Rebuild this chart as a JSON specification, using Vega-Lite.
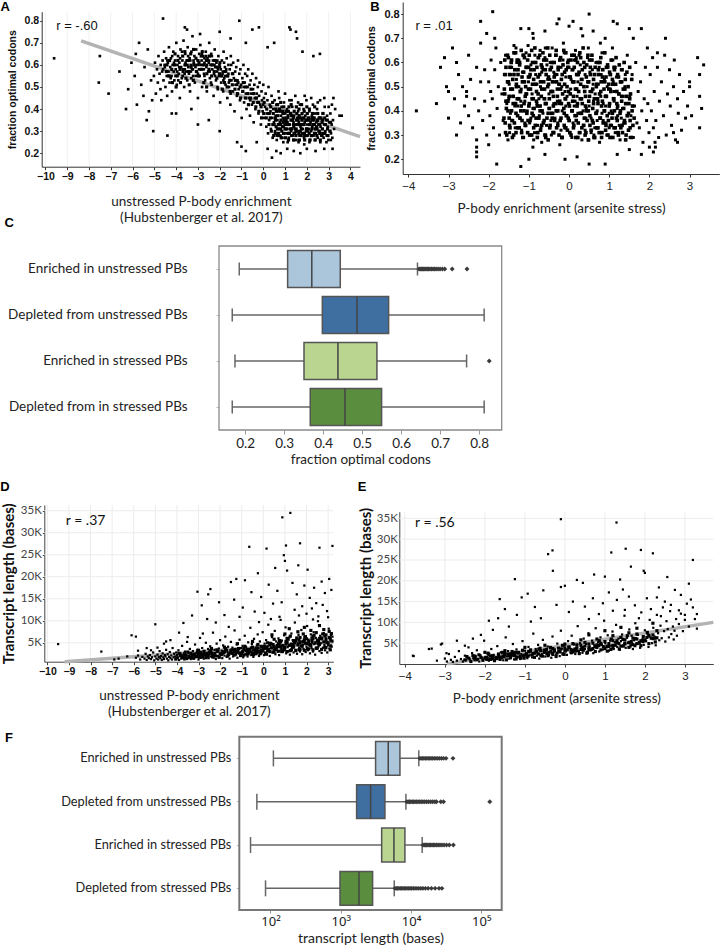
{
"$schema":"https://vega.github.io/schema/vega-lite/v6.json",
"width":720,"height":947,"padding":0,"autosize":{"type":"none"},"background":"white",
"config":{"view":{"stroke":null},"axis":{"grid":false,"labelFlush":false,"labelOverlap":false}},
"datasets":{
"cbox":[
{"group":"Enriched in unstressed PBs","lower":0.185,"q1":0.309,"median":0.371,"q3":0.444,"upper":0.642},
{"group":"Depleted from  unstressed PBs","lower":0.167,"q1":0.398,"median":0.487,"q3":0.568,"upper":0.813},
{"group":"Enriched in stressed PBs","lower":0.174,"q1":0.351,"median":0.438,"q3":0.538,"upper":0.768},
{"group":"Depleted from in stressed PBs","lower":0.167,"q1":0.367,"median":0.456,"q3":0.55,"upper":0.813}],
"cout":[
{"group":"Enriched in unstressed PBs","value":0.646},{"group":"Enriched in unstressed PBs","value":0.649},{"group":"Enriched in unstressed PBs","value":0.652},{"group":"Enriched in unstressed PBs","value":0.655},{"group":"Enriched in unstressed PBs","value":0.658},{"group":"Enriched in unstressed PBs","value":0.661},{"group":"Enriched in unstressed PBs","value":0.664},{"group":"Enriched in unstressed PBs","value":0.667},{"group":"Enriched in unstressed PBs","value":0.67},{"group":"Enriched in unstressed PBs","value":0.674},{"group":"Enriched in unstressed PBs","value":0.678},{"group":"Enriched in unstressed PBs","value":0.682},{"group":"Enriched in unstressed PBs","value":0.686},{"group":"Enriched in unstressed PBs","value":0.69},{"group":"Enriched in unstressed PBs","value":0.695},{"group":"Enriched in unstressed PBs","value":0.7},{"group":"Enriched in unstressed PBs","value":0.706},{"group":"Enriched in unstressed PBs","value":0.712},{"group":"Enriched in unstressed PBs","value":0.731},{"group":"Enriched in unstressed PBs","value":0.769},
{"group":"Enriched in stressed PBs","value":0.826}],
"fbox":[
{"group":"Enriched in unstressed PBs","lower":110,"q1":3130,"median":4740,"q3":6950,"upper":12900},
{"group":"Depleted from  unstressed PBs","lower":64,"q1":1680,"median":2660,"q3":4250,"upper":8450},
{"group":"Enriched in stressed PBs","lower":52,"q1":3820,"median":5710,"q3":8180,"upper":14400},
{"group":"Depleted from stressed PBs","lower":85,"q1":975,"median":1815,"q3":2840,"upper":5770}],
"fout":[
{"group":"Enriched in unstressed PBs","value":13300},{"group":"Enriched in unstressed PBs","value":13900},{"group":"Enriched in unstressed PBs","value":14500},{"group":"Enriched in unstressed PBs","value":15200},{"group":"Enriched in unstressed PBs","value":15900},{"group":"Enriched in unstressed PBs","value":16700},{"group":"Enriched in unstressed PBs","value":17500},{"group":"Enriched in unstressed PBs","value":18400},{"group":"Enriched in unstressed PBs","value":19300},{"group":"Enriched in unstressed PBs","value":20300},{"group":"Enriched in unstressed PBs","value":21400},{"group":"Enriched in unstressed PBs","value":22600},{"group":"Enriched in unstressed PBs","value":24000},{"group":"Enriched in unstressed PBs","value":25500},{"group":"Enriched in unstressed PBs","value":27200},{"group":"Enriched in unstressed PBs","value":29000},{"group":"Enriched in unstressed PBs","value":31500},{"group":"Enriched in unstressed PBs","value":39500},
{"group":"Depleted from  unstressed PBs","value":8700},{"group":"Depleted from  unstressed PBs","value":9100},{"group":"Depleted from  unstressed PBs","value":9500},{"group":"Depleted from  unstressed PBs","value":9900},{"group":"Depleted from  unstressed PBs","value":10400},{"group":"Depleted from  unstressed PBs","value":10900},{"group":"Depleted from  unstressed PBs","value":11400},{"group":"Depleted from  unstressed PBs","value":12000},{"group":"Depleted from  unstressed PBs","value":12600},{"group":"Depleted from  unstressed PBs","value":13300},{"group":"Depleted from  unstressed PBs","value":14000},{"group":"Depleted from  unstressed PBs","value":14800},{"group":"Depleted from  unstressed PBs","value":15700},{"group":"Depleted from  unstressed PBs","value":16700},{"group":"Depleted from  unstressed PBs","value":17800},{"group":"Depleted from  unstressed PBs","value":19000},{"group":"Depleted from  unstressed PBs","value":20300},{"group":"Depleted from  unstressed PBs","value":21800},{"group":"Depleted from  unstressed PBs","value":23000},{"group":"Depleted from  unstressed PBs","value":26500},{"group":"Depleted from  unstressed PBs","value":29000},{"group":"Depleted from  unstressed PBs","value":132000},
{"group":"Enriched in stressed PBs","value":14800},{"group":"Enriched in stressed PBs","value":15400},{"group":"Enriched in stressed PBs","value":16000},{"group":"Enriched in stressed PBs","value":16700},{"group":"Enriched in stressed PBs","value":17400},{"group":"Enriched in stressed PBs","value":18200},{"group":"Enriched in stressed PBs","value":19000},{"group":"Enriched in stressed PBs","value":19900},{"group":"Enriched in stressed PBs","value":20800},{"group":"Enriched in stressed PBs","value":21800},{"group":"Enriched in stressed PBs","value":23000},{"group":"Enriched in stressed PBs","value":24300},{"group":"Enriched in stressed PBs","value":25800},{"group":"Enriched in stressed PBs","value":27500},{"group":"Enriched in stressed PBs","value":29500},{"group":"Enriched in stressed PBs","value":32000},{"group":"Enriched in stressed PBs","value":35000},{"group":"Enriched in stressed PBs","value":40000},
{"group":"Depleted from stressed PBs","value":5900},{"group":"Depleted from stressed PBs","value":6150},{"group":"Depleted from stressed PBs","value":6400},{"group":"Depleted from stressed PBs","value":6700},{"group":"Depleted from stressed PBs","value":7000},{"group":"Depleted from stressed PBs","value":7300},{"group":"Depleted from stressed PBs","value":7650},{"group":"Depleted from stressed PBs","value":8000},{"group":"Depleted from stressed PBs","value":8400},{"group":"Depleted from stressed PBs","value":8800},{"group":"Depleted from stressed PBs","value":9250},{"group":"Depleted from stressed PBs","value":9700},{"group":"Depleted from stressed PBs","value":10200},{"group":"Depleted from stressed PBs","value":10800},{"group":"Depleted from stressed PBs","value":11400},{"group":"Depleted from stressed PBs","value":12100},{"group":"Depleted from stressed PBs","value":12900},{"group":"Depleted from stressed PBs","value":13800},{"group":"Depleted from stressed PBs","value":14800},{"group":"Depleted from stressed PBs","value":16000},{"group":"Depleted from stressed PBs","value":17500},{"group":"Depleted from stressed PBs","value":19500},{"group":"Depleted from stressed PBs","value":22000},{"group":"Depleted from stressed PBs","value":25000},{"group":"Depleted from stressed PBs","value":27500}]
},
"resolve":{"scale":{"x":"independent","y":"independent","color":"independent"},"axis":{"x":"independent","y":"independent"}},
"layer":[
{"layer":[
{"data":{"values":[{"v":-10},{"v":-9},{"v":-8},{"v":-7},{"v":-6},{"v":-5},{"v":-4},{"v":-3},{"v":-2},{"v":-1},{"v":0},{"v":1},{"v":2},{"v":3},{"v":4}]},
"mark":{"type":"rule","color":"#f1f1f1","strokeWidth":1},
"encoding":{"x":{"field":"v","type":"quantitative","scale":{"domain":[-10.17,4.44],"range":[41.7,360],"nice":false,"zero":false},
"axis":{"orient":"bottom","offset":-780.3,"values":[-10,-9,-8,-7,-6,-5,-4,-3,-2,-1,0,1,2,3,4],"format":"d","title":["unstressed P-body enrichment","(Hubstenberger et al. 2017)"],"domainColor":"#333","tickColor":"#333","tickSize":3,"labelPadding":2,"labelFont":"Liberation Sans","labelFontWeight":"bold","labelFontSize":10.5,"labelColor":"#111","titleFont":"Lato","titleFontSize":13.5,"titleFontWeight":"normal","titleColor":"#222","titlePadding":12,"titleLineHeight":16.5}},
"y":{"datum":0.139,"type":"quantitative","scale":{"domain":[0.139,0.841],"range":[166.7,11.7],"nice":false,"zero":false},
"axis":{"orient":"left","offset":-41.7,"values":[0.2,0.3,0.4,0.5,0.6,0.7,0.8],"format":".1f","title":"fraction optimal codons","domainColor":"#333","tickColor":"#333","tickSize":2,"labelPadding":1,"labelFont":"Liberation Sans","labelFontWeight":"bold","labelFontSize":10.5,"labelColor":"#111","titleFont":"Liberation Sans","titleFontSize":10.5,"titleFontWeight":"bold","titleColor":"#111","titlePadding":7}},"y2":{"datum":0.841}}},
{"data":{"values":[{"x":-8.36,"y":0.709},{"x":4.44,"y":0.275}]},
"mark":{"type":"line","color":"#b3b3b3","strokeWidth":3.5},
"encoding":{"x":{"field":"x","type":"quantitative","scale":{"domain":[-10.17,4.44],"range":[41.7,360],"nice":false,"zero":false}},
"y":{"field":"y","type":"quantitative","scale":{"domain":[0.139,0.841],"range":[166.7,11.7],"nice":false,"zero":false}}}},
{"data":{"values":"x,y\n-5.02,.55\n-4.97,.61\n-4.93,.47\n-4.88,.58\n-4.84,.52\n-4.81,.64\n-4.76,.56\n-4.72,.49\n-4.71,.60\n-4.68,.44\n-4.64,.57\n-4.62,.62\n-4.58,.53\n-4.55,.66\n-4.52,.59\n-4.49,.50\n-4.46,.63\n-4.43,.55\n-4.41,.46\n-4.38,.61\n-4.35,.57\n-4.33,.68\n-4.30,.52\n-4.27,.59\n-4.24,.63\n-4.21,.55\n-4.19,.48\n-4.16,.60\n-4.13,.66\n-4.11,.57\n-4.08,.53\n-4.05,.62\n-4.02,.58\n-3.99,.70\n-3.97,.51\n-3.94,.60\n-3.91,.64\n-3.88,.56\n-3.85,.61\n-3.83,.45\n-3.80,.67\n-3.77,.59\n-3.74,.54\n-3.71,.62\n-3.69,.58\n-3.66,.71\n-3.63,.50\n-3.60,.60\n-3.58,.65\n-3.55,.57\n-3.52,.62\n-3.49,.53\n-3.47,.68\n-3.44,.59\n-3.41,.56\n-3.38,.63\n-3.36,.48\n-3.33,.60\n-3.30,.66\n-3.27,.58\n-3.25,.73\n-3.22,.55\n-3.19,.61\n-3.16,.64\n-3.14,.52\n-3.11,.59\n-3.08,.67\n-3.05,.57\n-3.02,.62\n-3.00,.45\n-2.97,.60\n-2.94,.65\n-2.92,.55\n-2.89,.69\n-2.86,.58\n-2.83,.62\n-2.81,.50\n-2.78,.60\n-2.75,.64\n-2.72,.56\n-2.70,.61\n-2.67,.53\n-2.64,.66\n-2.61,.59\n-2.59,.48\n-2.56,.63\n-2.53,.57\n-2.50,.61\n-2.48,.70\n-2.45,.54\n-2.42,.60\n-2.39,.65\n-2.37,.51\n-2.34,.58\n-2.31,.62\n-2.28,.46\n-2.26,.56\n-2.23,.67\n-2.20,.59\n-2.17,.53\n-2.15,.61\n-2.12,.57\n-2.09,.49\n-2.06,.64\n-2.04,.55\n-2.01,.60\n-1.98,.43\n-1.95,.58\n-1.93,.52\n-1.90,.62\n-1.87,.56\n-1.84,.48\n-1.82,.66\n-1.79,.54\n-1.76,.59\n-1.73,.51\n-1.71,.57\n-1.68,.63\n-1.65,.45\n-1.62,.55\n-1.60,.60\n-1.57,.50\n-1.54,.58\n-1.51,.42\n-1.49,.64\n-1.46,.53\n-1.43,.56\n-1.40,.48\n-1.38,.61\n-1.35,.54\n-1.32,.39\n-1.29,.57\n-1.27,.51\n-1.24,.59\n-1.21,.46\n-1.18,.53\n-1.16,.62\n-1.13,.49\n-1.10,.56\n-1.07,.44\n-1.05,.58\n-1.02,.51\n-0.99,.36\n-0.96,.54\n-0.94,.48\n-0.91,.60\n-0.88,.43\n-0.85,.52\n-0.83,.56\n-0.80,.47\n-0.77,.40\n-0.74,.55\n-0.72,.50\n-0.69,.58\n-0.66,.45\n-0.63,.51\n-0.61,.37\n-0.58,.53\n-0.55,.47\n-0.52,.42\n-0.50,.56\n-0.47,.49\n-0.44,.34\n-0.41,.51\n-0.39,.45\n-0.36,.40\n-0.33,.54\n-0.30,.47\n-0.28,.43\n-0.25,.50\n-0.22,.38\n-0.19,.46\n-0.17,.52\n-0.14,.42\n-0.11,.33\n-0.08,.48\n-0.06,.44\n-0.03,.39\n0.00,.51\n0.03,.45\n0.05,.36\n0.08,.41\n0.11,.47\n0.14,.32\n0.16,.38\n0.19,.44\n0.22,.29\n0.24,.50\n0.27,.35\n0.30,.42\n0.33,.39\n0.35,.31\n0.38,.46\n0.41,.36\n0.43,.27\n0.46,.40\n0.49,.34\n0.52,.44\n0.54,.30\n0.57,.37\n0.60,.42\n0.62,.26\n0.65,.35\n0.68,.39\n0.71,.31\n0.73,.45\n0.76,.34\n0.79,.28\n0.81,.37\n0.84,.41\n0.87,.32\n0.90,.36\n0.92,.25\n0.95,.43\n0.98,.33\n1.01,.38\n1.03,.29\n1.06,.35\n1.09,.40\n1.11,.31\n1.14,.36\n1.17,.27\n1.20,.44\n1.22,.33\n1.25,.38\n1.28,.30\n1.30,.35\n1.33,.41\n1.36,.28\n1.39,.34\n1.41,.37\n1.44,.31\n1.47,.46\n1.49,.33\n1.52,.26\n1.55,.36\n1.58,.30\n1.60,.39\n1.63,.34\n1.66,.28\n1.68,.42\n1.71,.32\n1.74,.36\n1.77,.29\n1.79,.35\n1.82,.31\n1.85,.40\n1.87,.27\n1.90,.34\n1.93,.37\n1.96,.30\n1.98,.44\n2.01,.33\n2.04,.28\n2.06,.36\n2.09,.31\n2.12,.39\n2.15,.26\n2.17,.34\n2.20,.30\n2.23,.37\n2.25,.32\n2.28,.42\n2.31,.28\n2.34,.35\n2.36,.31\n2.39,.38\n2.42,.29\n2.44,.34\n2.47,.40\n2.50,.27\n2.53,.33\n2.55,.36\n2.58,.30\n2.61,.44\n2.63,.32\n2.66,.28\n2.69,.35\n2.72,.31\n2.74,.38\n2.77,.27\n2.80,.33\n2.82,.41\n2.85,.30\n2.88,.35\n2.91,.28\n2.93,.37\n2.96,.32\n2.99,.26\n3.02,.34\n3.05,.30\n3.08,.38\n3.11,.29\n3.14,.33\n3.17,.27\n3.20,.35\n-4.6,.58\n-4.4,.62\n-4.25,.54\n-4.1,.61\n-3.95,.57\n-3.82,.63\n-3.7,.55\n-3.57,.61\n-3.45,.64\n-3.32,.57\n-3.2,.62\n-3.07,.6\n-2.95,.58\n-2.82,.65\n-2.7,.63\n-2.58,.6\n-2.46,.57\n-2.33,.6\n-2.21,.55\n-2.08,.58\n-1.96,.55\n-1.83,.53\n-1.7,.58\n-1.58,.52\n-4.53,.6\n-4.36,.55\n-4.18,.64\n-4.03,.55\n-3.86,.59\n-3.73,.66\n-3.61,.56\n-3.48,.6\n-3.35,.62\n-3.23,.58\n-3.1,.55\n-2.98,.62\n-2.85,.6\n-2.73,.58\n-2.62,.64\n-2.49,.62\n-2.36,.64\n-2.24,.6\n-2.11,.62\n-1.99,.59\n-1.86,.57\n-1.74,.55\n-1.6,.56\n-1.47,.6\n-3.9,.53\n-3.6,.58\n-3.3,.54\n-3.0,.56\n-2.7,.55\n-2.4,.52\n-2.1,.5\n-1.8,.61\n-1.5,.47\n-1.2,.51\n-0.9,.5\n-0.6,.44\n-0.3,.45\n0.0,.42\n0.3,.38\n0.62,.28\n0.88,.27\n1.12,.25\n1.38,.26\n1.62,.25\n1.88,.24\n2.12,.25\n2.38,.26\n2.62,.25\n2.9,.25\n3.1,.26\n0.7,.48\n1.0,.47\n1.3,.44\n1.6,.43\n1.9,.46\n2.2,.45\n2.5,.43\n2.8,.45\n3.0,.41\n-9.6,.63\n-7.5,.64\n-7.55,.52\n-7.1,.47\n-6.6,.57\n-6.2,.49\n-6.05,.61\n-5.9,.55\n-5.8,.42\n-5.85,.65\n-5.6,.51\n-5.5,.46\n-5.45,.59\n-5.3,.67\n-5.25,.39\n-5.15,.53\n-5.1,.44\n-6.3,.40\n-5.7,.70\n-5.35,.35\n-5.05,.30\n-4.6,.81\n-3.6,.77\n-3.5,.76\n-2.9,.74\n-2.0,.75\n-1.1,.80\n-0.5,.76\n-0.2,.77\n0.5,.70\n1.2,.77\n1.25,.76\n1.5,.75\n1.55,.72\n-1.5,.72\n-0.8,.70\n0.2,.68\n1.8,.66\n2.3,.64\n2.6,.65\n-1.2,.25\n-1.0,.23\n-0.8,.21\n-0.3,.25\n0.2,.22\n0.4,.18\n0.6,.21\n0.8,.20\n1.1,.22\n1.4,.21\n1.7,.20\n2.0,.22\n2.4,.21\n2.8,.22\n-2.5,.35\n-3.3,.40\n-4.0,.38\n-3.0,.33\n-2.0,.30\n-4.4,.28\n-4.2,.38\n3.25,.31\n3.3,.40\n3.5,.37\n3.6,.37\n3.22,.45\n3.15,.42\n3.18,.22","format":{"type":"csv","parse":{"x":"number","y":"number"}}},
"mark":{"type":"point","shape":"square","filled":true,"size":7,"color":"#000","opacity":1},
"encoding":{"x":{"field":"x","type":"quantitative","scale":{"domain":[-10.17,4.44],"range":[41.7,360],"nice":false,"zero":false}},
"y":{"field":"y","type":"quantitative","scale":{"domain":[0.139,0.841],"range":[166.7,11.7],"nice":false,"zero":false}}}},
{"data":{"values":"x,y\n0.32,.36\n0.34,.41\n0.37,.30\n0.44,.33\n0.46,.38\n0.48,.28\n0.43,.43\n0.56,.35\n0.58,.40\n0.55,.29\n0.59,.32\n0.67,.37\n0.69,.33\n0.66,.42\n0.7,.28\n0.79,.31\n0.81,.35\n0.78,.39\n0.82,.27\n0.8,.43\n0.91,.34\n0.93,.29\n0.9,.38\n0.94,.41\n0.92,.32\n1.03,.36\n1.05,.31\n1.02,.27\n1.06,.39\n1.04,.34\n1.15,.29\n1.17,.33\n1.14,.37\n1.18,.41\n1.16,.26\n1.27,.35\n1.29,.31\n1.26,.38\n1.3,.28\n1.28,.42\n1.39,.33\n1.41,.29\n1.38,.36\n1.42,.39\n1.4,.26\n1.51,.31\n1.53,.35\n1.5,.28\n1.54,.38\n1.52,.41\n1.63,.29\n1.65,.33\n1.62,.36\n1.66,.26\n1.64,.4\n1.75,.31\n1.77,.35\n1.74,.28\n1.78,.38\n1.76,.42\n1.87,.33\n1.89,.29\n1.86,.36\n1.9,.26\n1.88,.39\n1.99,.31\n2.01,.35\n1.98,.28\n2.02,.38\n2.0,.41\n2.11,.29\n2.13,.33\n2.1,.36\n2.14,.26\n2.12,.4\n2.23,.31\n2.25,.35\n2.22,.28\n2.26,.38\n2.35,.33\n2.37,.29\n2.34,.36\n2.38,.26\n2.36,.41\n2.47,.31\n2.49,.35\n2.46,.28\n2.5,.38\n2.59,.33\n2.61,.29\n2.58,.36\n2.62,.26\n2.71,.31\n2.73,.35\n2.7,.28\n2.74,.38\n2.83,.29\n2.85,.33\n2.82,.36\n2.95,.31\n2.97,.28\n2.94,.35\n3.07,.3\n3.09,.34\n-4.45,.57\n-4.42,.6\n-4.32,.55\n-4.3,.62\n-4.2,.58\n-4.17,.52\n-4.07,.6\n-4.05,.65\n-3.95,.55\n-3.92,.62\n-3.82,.58\n-3.8,.52\n-3.7,.64\n-3.68,.57\n-3.58,.6\n-3.55,.54\n-3.45,.62\n-3.43,.57\n-3.33,.65\n-3.31,.59\n-3.21,.53\n-3.19,.6\n-3.09,.63\n-3.07,.57\n-2.97,.55\n-2.95,.61\n-2.85,.64\n-2.83,.58\n-2.73,.52\n-2.71,.6\n-2.61,.62\n-2.59,.56\n-2.49,.58\n-2.47,.64\n-2.37,.55\n-2.35,.6\n-2.25,.57\n-2.23,.62\n-2.13,.54\n-2.11,.59\n-2.01,.56\n-1.99,.61\n-3.6,.66\n-3.2,.67\n-2.8,.66\n-4.0,.5\n-3.4,.51\n-2.6,.5\n-1.9,.55\n-1.88,.49\n-1.78,.52\n-1.76,.57\n-1.66,.5\n-1.64,.55\n-1.54,.53\n-1.52,.48\n-1.42,.51\n-1.4,.56\n-1.3,.49\n-1.28,.53\n-1.18,.47\n-1.16,.52\n-1.06,.5\n-1.04,.45\n-0.94,.48\n-0.92,.52\n-0.82,.45\n-0.8,.5\n-0.7,.47\n-0.68,.42\n-0.58,.45\n-0.56,.49\n-0.46,.43\n-0.44,.47\n-0.34,.41\n-0.32,.45\n-0.22,.43\n-0.2,.39\n-0.1,.41\n-0.08,.36\n0.02,.38\n0.04,.43\n0.14,.36\n0.16,.4\n0.26,.33\n0.24,.38\n0.5,.33\n0.6,.39\n0.7,.29\n0.8,.33\n0.9,.39\n1.0,.31\n1.1,.34\n1.2,.29\n1.3,.37\n1.4,.32\n1.5,.3\n1.6,.35\n1.7,.3\n1.8,.33\n1.9,.28\n2.0,.31\n2.1,.35\n2.2,.28\n2.3,.33\n2.4,.31\n2.5,.35\n2.6,.29\n2.7,.34\n0.55,.36\n0.65,.31\n0.75,.4\n0.85,.3\n0.95,.35\n1.05,.33\n1.15,.39\n1.25,.31\n1.35,.35\n1.45,.29\n1.55,.33\n1.65,.37\n1.75,.33\n1.85,.29\n1.95,.35\n2.05,.3\n2.15,.33\n2.25,.36\n2.35,.29\n2.45,.32\n2.55,.3\n2.65,.36\n2.75,.29","format":{"type":"csv","parse":{"x":"number","y":"number"}}},
"mark":{"type":"point","shape":"square","filled":true,"size":10,"color":"#000","opacity":1},
"encoding":{"x":{"field":"x","type":"quantitative","scale":{"domain":[-10.17,4.44],"range":[41.7,360],"nice":false,"zero":false}},
"y":{"field":"y","type":"quantitative","scale":{"domain":[0.139,0.841],"range":[166.7,11.7],"nice":false,"zero":false}}}},
{"data":{"values":[{}]},"mark":{"type":"text","text":"r = -.60","font":"Liberation Sans","fontSize":13,"color":"#111"},
"encoding":{"x":{"datum":-8.55,"type":"quantitative","scale":{"domain":[-10.17,4.44],"range":[41.7,360],"nice":false,"zero":false}},
"y":{"datum":0.776,"type":"quantitative","scale":{"domain":[0.139,0.841],"range":[166.7,11.7],"nice":false,"zero":false}}}},
{"data":{"values":[{}]},"mark":{"type":"text","text":"A","font":"Liberation Sans","fontWeight":"bold","fontSize":13,"color":"#000"},
"encoding":{"x":{"datum":-11.85,"type":"quantitative","scale":{"domain":[-10.17,4.44],"range":[41.7,360],"nice":false,"zero":false}},
"y":{"datum":0.862,"type":"quantitative","scale":{"domain":[0.139,0.841],"range":[166.7,11.7],"nice":false,"zero":false}}}}
]},
{"layer":[
{"data":{"values":"x,y\n-2.00,.52\n-1.97,.38\n-1.94,.61\n-1.91,.45\n-1.88,.33\n-1.85,.57\n-1.82,.66\n-1.79,.41\n-1.76,.50\n-1.73,.30\n-1.70,.60\n-1.67,.47\n-1.64,.36\n-1.61,.55\n-1.58,.63\n-1.55,.43\n-1.52,.28\n-1.49,.51\n-1.46,.39\n-1.43,.58\n-1.40,.46\n-1.37,.67\n-1.34,.33\n-1.31,.53\n-1.28,.42\n-1.25,.61\n-1.22,.37\n-1.19,.49\n-1.16,.56\n-1.13,.29\n-1.10,.44\n-1.07,.64\n-1.04,.40\n-1.01,.52\n-0.98,.35\n-0.95,.59\n-0.92,.47\n-0.89,.70\n-0.86,.31\n-0.83,.55\n-0.80,.43\n-0.77,.62\n-0.74,.38\n-0.71,.50\n-0.68,.27\n-0.65,.57\n-0.62,.45\n-0.59,.66\n-0.56,.34\n-0.53,.53\n-0.50,.41\n-0.47,.60\n-0.44,.30\n-0.41,.48\n-0.38,.56\n-0.35,.37\n-0.32,.63\n-0.29,.44\n-0.26,.51\n-0.23,.26\n-0.20,.58\n-0.17,.40\n-0.14,.68\n-0.11,.33\n-0.08,.54\n-0.05,.46\n-0.02,.61\n0.01,.36\n0.04,.49\n0.07,.29\n0.10,.57\n0.13,.42\n0.16,.65\n0.19,.38\n0.22,.52\n0.25,.31\n0.28,.59\n0.31,.45\n0.34,.71\n0.37,.34\n0.40,.55\n0.43,.41\n0.46,.62\n0.49,.28\n0.52,.48\n0.55,.37\n0.58,.57\n0.61,.44\n0.64,.33\n0.67,.60\n0.70,.40\n0.73,.51\n0.76,.27\n0.79,.46\n0.82,.64\n0.85,.36\n0.88,.53\n0.91,.42\n0.94,.30\n0.97,.58\n1.00,.39\n1.03,.49\n1.06,.34\n1.09,.61\n1.12,.44\n1.15,.31\n1.18,.54\n1.21,.38\n1.24,.47\n1.27,.28\n1.30,.57\n1.33,.41\n1.36,.35\n1.39,.50\n1.42,.43\n1.45,.63\n1.48,.32\n1.51,.46\n1.54,.38\n1.57,.55\n1.60,.29\n1.63,.42\n1.66,.60\n1.69,.35\n1.72,.48\n1.75,.33\n1.78,.52\n1.81,.40\n1.84,.27\n1.87,.45\n1.90,.58\n1.93,.36\n1.96,.43\n1.99,.31\n-1.5,.45\n-1.4,.36\n-1.3,.60\n-1.2,.44\n-1.1,.35\n-1.0,.58\n-0.9,.41\n-0.8,.51\n-0.7,.33\n-0.6,.62\n-0.5,.47\n-0.4,.39\n-0.3,.55\n-0.2,.32\n-0.1,.48\n0.0,.58\n0.1,.35\n0.2,.46\n0.3,.53\n0.4,.32\n0.5,.42\n0.6,.51\n0.7,.36\n0.8,.55\n0.9,.46\n1.0,.33\n1.1,.52\n1.2,.41\n1.3,.37\n1.4,.55\n-1.45,.55\n-1.35,.42\n-1.25,.50\n-1.15,.63\n-1.05,.47\n-0.95,.37\n-0.85,.63\n-0.75,.45\n-0.65,.39\n-0.55,.59\n-0.45,.36\n-0.35,.52\n-0.25,.43\n-0.15,.61\n-0.05,.38\n0.05,.53\n0.15,.44\n0.25,.63\n0.35,.40\n0.45,.50\n0.55,.31\n0.65,.47\n0.75,.58\n0.85,.43\n0.95,.50\n1.05,.40\n1.15,.58\n1.25,.34\n1.35,.46\n1.45,.38\n-1.48,.31\n-1.18,.32\n-0.88,.28\n-0.58,.30\n-0.28,.35\n0.02,.31\n0.32,.28\n0.62,.30\n0.92,.35\n1.22,.31\n1.52,.29\n-1.32,.66\n-1.02,.67\n-0.72,.65\n-0.42,.66\n-0.12,.64\n0.18,.62\n0.48,.66\n0.78,.68\n1.08,.66\n1.38,.60\n-0.98,.54\n-0.68,.56\n-0.38,.43\n-0.08,.42\n0.22,.39\n0.52,.56\n0.82,.39\n1.12,.48\n-0.78,.34\n-0.48,.53\n-0.18,.50\n0.12,.61\n0.42,.37\n0.72,.44\n1.02,.55\n1.32,.52\n-3.8,.40\n-3.3,.43\n-3.2,.58\n-3.1,.62\n-3.05,.50\n-3.0,.48\n-3.0,.37\n-2.9,.66\n-2.85,.45\n-2.8,.60\n-2.8,.30\n-2.75,.55\n-2.7,.35\n-2.65,.50\n-2.6,.42\n-2.55,.48\n-2.55,.46\n-2.5,.63\n-2.5,.38\n-2.45,.53\n-2.4,.33\n-2.35,.45\n-2.3,.58\n-2.3,.23\n-2.3,.21\n-2.3,.25\n-2.3,.28\n-2.25,.40\n-2.2,.68\n-2.2,.52\n-2.15,.36\n-2.1,.57\n-2.1,.44\n-2.05,.72\n-2.05,.30\n-2.2,.77\n-1.9,.81\n-1.8,.18\n-1.95,.48\n-2.0,.26\n-1.85,.70\n-1.2,.74\n-1.0,.74\n-0.9,.72\n-0.6,.73\n-0.3,.76\n-0.25,.78\n0.0,.75\n0.1,.77\n0.5,.80\n0.6,.73\n0.9,.70\n1.1,.77\n1.2,.76\n1.5,.74\n1.6,.70\n1.8,.74\n0.3,.74\n-0.1,.20\n0.2,.21\n0.5,.18\n-0.6,.22\n-1.0,.20\n-1.2,.17\n-0.9,.25\n0.9,.18\n1.2,.22\n1.5,.24\n1.8,.22\n2.1,.23\n2.15,.25\n2.14,.27\n2.02,.55\n2.05,.40\n2.08,.62\n2.1,.33\n2.12,.48\n2.16,.36\n2.2,.58\n2.23,.29\n2.25,.44\n2.3,.52\n2.35,.38\n2.38,.63\n2.4,.70\n2.42,.30\n2.45,.47\n2.5,.57\n2.52,.42\n2.55,.34\n2.6,.50\n2.62,.61\n2.65,.28\n2.7,.45\n2.72,.39\n2.75,.55\n2.8,.32\n2.85,.48\n2.9,.37\n2.95,.42\n3.0,.50\n3.0,.52\n3.05,.38\n3.2,.62\n3.25,.55\n3.25,.46\n3.3,.41\n3.25,.33\n3.35,.59\n2.2,.64\n1.95,.66\n2.0,.25\n2.6,.31\n2.7,.27","format":{"type":"csv","parse":{"x":"number","y":"number"}}},
"mark":{"type":"point","shape":"square","filled":true,"size":9,"color":"#000","opacity":1},
"encoding":{"x":{"field":"x","type":"quantitative","scale":{"domain":[-4.14,3.74],"range":[402.7,719.3],"nice":false,"zero":false},
"axis":{"orient":"bottom","offset":-773,"values":[-4,-3,-2,-1,0,1,2,3],"format":"d","title":"P-body enrichment (arsenite stress)","domainColor":"#333","tickColor":"#333","tickSize":3,"labelPadding":3,"labelFont":"Liberation Sans","labelFontSize":11.5,"labelColor":"#222","titleFont":"Lato","titleFontSize":13.5,"titleFontWeight":"normal","titleColor":"#222","titlePadding":10}},
"y":{"field":"y","type":"quantitative","scale":{"domain":[0.139,0.85],"range":[174,2],"nice":false,"zero":false},
"axis":{"orient":"left","offset":-402.7,"values":[0.2,0.3,0.4,0.5,0.6,0.7,0.8],"format":".1f","title":"fraction optimal codons","domainColor":"#333","tickColor":"#333","tickSize":2,"labelPadding":1.5,"labelFont":"Liberation Sans","labelFontWeight":"bold","labelFontSize":11,"labelColor":"#111","titleFont":"Liberation Sans","titleFontSize":11,"titleFontWeight":"bold","titleColor":"#111","titlePadding":7}}}},
{"data":{"values":"x,y\n-1.58,.31\n-1.62,.37\n-1.57,.44\n-1.61,.49\n-1.59,.55\n-1.6,.61\n-1.48,.34\n-1.52,.40\n-1.49,.46\n-1.51,.52\n-1.47,.58\n-1.53,.63\n-1.38,.30\n-1.42,.36\n-1.39,.43\n-1.41,.49\n-1.37,.55\n-1.43,.61\n-1.28,.33\n-1.32,.39\n-1.29,.45\n-1.31,.51\n-1.27,.57\n-1.33,.64\n-1.18,.31\n-1.22,.37\n-1.19,.42\n-1.21,.48\n-1.17,.54\n-1.23,.60\n-1.08,.34\n-1.12,.40\n-1.09,.46\n-1.11,.52\n-1.07,.58\n-1.13,.63\n-0.98,.30\n-1.02,.36\n-0.99,.43\n-1.01,.49\n-0.97,.55\n-1.03,.61\n-0.88,.33\n-0.92,.39\n-0.89,.45\n-0.91,.51\n-0.87,.57\n-0.93,.65\n-0.78,.31\n-0.82,.37\n-0.79,.42\n-0.81,.48\n-0.77,.54\n-0.83,.60\n-0.68,.34\n-0.72,.40\n-0.69,.46\n-0.71,.52\n-0.67,.58\n-0.73,.63\n-0.58,.29\n-0.62,.36\n-0.59,.43\n-0.61,.49\n-0.57,.55\n-0.63,.61\n-0.48,.33\n-0.52,.39\n-0.49,.45\n-0.51,.51\n-0.47,.57\n-0.53,.66\n-0.38,.31\n-0.42,.37\n-0.39,.42\n-0.41,.48\n-0.37,.54\n-0.43,.60\n-0.28,.34\n-0.32,.40\n-0.29,.46\n-0.31,.52\n-0.27,.58\n-0.33,.63\n-0.18,.29\n-0.22,.36\n-0.19,.43\n-0.21,.49\n-0.17,.55\n-0.23,.61\n-0.08,.33\n-0.12,.39\n-0.09,.45\n-0.11,.51\n-0.07,.57\n-0.13,.65\n0.02,.31\n-0.02,.37\n0.01,.42\n-0.01,.48\n0.03,.54\n-0.03,.60\n0.12,.34\n0.08,.40\n0.11,.46\n0.09,.52\n0.13,.58\n0.07,.63\n0.22,.29\n0.18,.36\n0.21,.43\n0.19,.49\n0.23,.55\n0.17,.61\n0.32,.33\n0.28,.39\n0.31,.45\n0.29,.51\n0.33,.57\n0.27,.64\n0.42,.31\n0.38,.37\n0.41,.42\n0.39,.48\n0.43,.54\n0.37,.60\n0.52,.34\n0.48,.40\n0.51,.46\n0.49,.52\n0.53,.58\n0.47,.63\n0.62,.29\n0.58,.36\n0.61,.43\n0.59,.49\n0.63,.55\n0.57,.61\n0.72,.33\n0.68,.39\n0.71,.45\n0.69,.51\n0.73,.57\n0.82,.31\n0.78,.37\n0.81,.42\n0.79,.48\n0.83,.54\n0.77,.60\n0.92,.34\n0.88,.40\n0.91,.46\n0.89,.52\n0.93,.58\n1.02,.29\n0.98,.36\n1.01,.43\n0.99,.49\n1.03,.55\n1.12,.33\n1.08,.39\n1.11,.45\n1.09,.51\n1.13,.57\n1.22,.31\n1.18,.37\n1.21,.42\n1.19,.48\n1.23,.54\n1.32,.34\n1.28,.40\n1.31,.46\n1.29,.52\n1.42,.30\n1.38,.36\n1.41,.43\n1.39,.49\n1.52,.33\n1.48,.39\n1.51,.45\n1.62,.37\n1.58,.42\n-1.60,.47\n-1.59,.35\n-1.57,.58\n-1.56,.41\n-1.55,.30\n-1.53,.52\n-1.52,.44\n-1.51,.62\n-1.49,.37\n-1.48,.55\n-1.47,.33\n-1.45,.49\n-1.44,.60\n-1.43,.40\n-1.41,.29\n-1.40,.53\n-1.39,.46\n-1.37,.64\n-1.36,.35\n-1.35,.57\n-1.33,.43\n-1.32,.31\n-1.31,.50\n-1.29,.61\n-1.28,.38\n-1.27,.55\n-1.25,.45\n-1.24,.33\n-1.23,.59\n-1.21,.48\n-1.20,.40\n-1.19,.65\n-1.17,.36\n-1.16,.52\n-1.15,.29\n-1.13,.56\n-1.12,.43\n-1.11,.62\n-1.09,.34\n-1.08,.50\n-1.07,.47\n-1.05,.39\n-1.04,.58\n-1.03,.31\n-1.01,.54\n-1.00,.42\n-0.99,.63\n-0.97,.36\n-0.96,.49\n-0.95,.57\n-0.93,.30\n-0.92,.45\n-0.91,.60\n-0.89,.38\n-0.88,.53\n-0.87,.41\n-0.85,.66\n-0.84,.34\n-0.83,.51\n-0.81,.44\n-0.80,.58\n-0.79,.29\n-0.77,.47\n-0.76,.62\n-0.75,.37\n-0.73,.55\n-0.72,.42\n-0.71,.32\n-0.69,.59\n-0.68,.49\n-0.67,.40\n-0.65,.64\n-0.64,.35\n-0.63,.52\n-0.61,.45\n-0.60,.30\n-0.59,.57\n-0.57,.43\n-0.56,.61\n-0.55,.37\n-0.53,.50\n-0.52,.28\n-0.51,.54\n-0.49,.41\n-0.48,.63\n-0.47,.34\n-0.45,.48\n-0.44,.58\n-0.43,.39\n-0.41,.52\n-0.40,.31\n-0.39,.46\n-0.37,.60\n-0.36,.36\n-0.35,.55\n-0.33,.43\n-0.32,.65\n-0.31,.33\n-0.29,.49\n-0.28,.40\n-0.27,.57\n-0.25,.30\n-0.24,.51\n-0.23,.44\n-0.21,.62\n-0.20,.37\n-0.19,.53\n-0.17,.29\n-0.16,.47\n-0.15,.59\n-0.13,.41\n-0.12,.34\n-0.11,.56\n-0.09,.45\n-0.08,.64\n-0.07,.38\n-0.05,.50\n-0.04,.32\n-0.03,.58\n-0.01,.43\n0.00,.36\n0.01,.54\n0.03,.47\n0.04,.61\n0.05,.30\n0.07,.40\n0.08,.57\n0.09,.44\n0.11,.33\n0.12,.52\n0.13,.63\n0.15,.38\n0.16,.49\n0.17,.29\n0.19,.55\n0.20,.42\n0.21,.60\n0.23,.35\n0.24,.48\n0.25,.56\n0.27,.31\n0.28,.45\n0.29,.62\n0.31,.39\n0.32,.53\n0.33,.43\n0.35,.66\n0.36,.34\n0.37,.50\n0.39,.58\n0.40,.30\n0.41,.46\n0.43,.40\n0.44,.59\n0.45,.36\n0.47,.52\n0.48,.28\n0.49,.44\n0.51,.61\n0.52,.38\n0.53,.55\n0.55,.32\n0.56,.48\n0.57,.63\n0.59,.41\n0.60,.35\n0.61,.53\n0.63,.45\n0.64,.29\n0.65,.58\n0.67,.39\n0.68,.50\n0.69,.33\n0.71,.60\n0.72,.43\n0.73,.55\n0.75,.31\n0.76,.47\n0.77,.37\n0.79,.62\n0.80,.52\n0.81,.29\n0.83,.44\n0.84,.57\n0.85,.35\n0.87,.49\n0.88,.40\n0.89,.64\n0.91,.32\n0.92,.54\n0.93,.46\n0.95,.38\n0.96,.59\n0.97,.30\n0.99,.51\n1.00,.42\n1.01,.56\n1.03,.34\n1.04,.48\n1.05,.61\n1.07,.37\n1.08,.53\n1.09,.29\n1.11,.45\n1.12,.58\n1.13,.40\n1.15,.33\n1.16,.51\n1.17,.62\n1.19,.43\n1.20,.36\n1.21,.55\n1.23,.30\n1.24,.47\n1.25,.59\n1.27,.39\n1.28,.52\n1.29,.33\n1.31,.44\n1.32,.57\n1.33,.31\n1.35,.49\n1.36,.41\n1.37,.60\n1.39,.35\n1.40,.53\n1.41,.28\n1.43,.46\n1.44,.56\n1.45,.38\n1.47,.50\n1.48,.32\n1.49,.43\n1.51,.58\n1.52,.36\n1.53,.47\n1.55,.29\n1.56,.53\n1.57,.40\n1.59,.34","format":{"type":"csv","parse":{"x":"number","y":"number"}}},
"mark":{"type":"point","shape":"square","filled":true,"size":13,"color":"#000","opacity":1},
"encoding":{"x":{"field":"x","type":"quantitative","scale":{"domain":[-4.14,3.74],"range":[402.7,719.3],"nice":false,"zero":false}},
"y":{"field":"y","type":"quantitative","scale":{"domain":[0.139,0.85],"range":[174,2],"nice":false,"zero":false}}}},
{"data":{"values":[{}]},"mark":{"type":"text","text":"r = .01","font":"Liberation Sans","fontSize":13,"color":"#111"},
"encoding":{"x":{"datum":-3.36,"type":"quantitative","scale":{"domain":[-4.14,3.74],"range":[402.7,719.3],"nice":false,"zero":false}},
"y":{"datum":0.75,"type":"quantitative","scale":{"domain":[0.139,0.85],"range":[174,2],"nice":false,"zero":false}}}},
{"data":{"values":[{}]},"mark":{"type":"text","text":"B","font":"Liberation Sans","fontWeight":"bold","fontSize":13,"color":"#000"},
"encoding":{"x":{"datum":-4.83,"type":"quantitative","scale":{"domain":[-4.14,3.74],"range":[402.7,719.3],"nice":false,"zero":false}},
"y":{"datum":0.831,"type":"quantitative","scale":{"domain":[0.139,0.85],"range":[174,2],"nice":false,"zero":false}}}}
]},
{"layer":[
{"data":{"name":"cbox"},"mark":{"type":"rule","color":"#666","strokeWidth":1.5},
"encoding":{"x":{"field":"lower","type":"quantitative","scale":{"domain":[0.133,0.858],"range":[219,501.7],"nice":false,"zero":false},
"axis":{"orient":"bottom","offset":-517,"values":[0.2,0.3,0.4,0.5,0.6,0.7,0.8],"format":".1f","title":"fraction optimal codons","domain":false,"tickSize":4,"tickColor":"#999","labelPadding":2,"labelFont":"Lato","labelFontSize":13.5,"labelColor":"#222","titleFont":"Lato","titleFontSize":13.5,"titleFontWeight":"normal","titleColor":"#222","titlePadding":2.5}},
"x2":{"field":"upper"},
"y":{"field":"group","type":"nominal","sort":null,"scale":{"domain":["Enriched in unstressed PBs","Depleted from  unstressed PBs","Enriched in stressed PBs","Depleted from in stressed PBs"],"range":[246,430],"paddingInner":0,"paddingOuter":0},
"axis":{"orient":"left","offset":-219,"title":null,"domain":false,"tickSize":3,"tickColor":"#bbb","bandPosition":0.5,"labelPadding":29,"labelFont":"Lato","labelFontSize":13.5,"labelColor":"#222","labelLimit":400}}}},
{"data":{"name":"cbox"},"mark":{"type":"tick","color":"#666","thickness":1.5,"size":13,"opacity":1},
"encoding":{"x":{"field":"lower","type":"quantitative","scale":{"domain":[0.133,0.858],"range":[219,501.7],"nice":false,"zero":false}},
"y":{"field":"group","type":"nominal","sort":null,"scale":{"domain":["Enriched in unstressed PBs","Depleted from  unstressed PBs","Enriched in stressed PBs","Depleted from in stressed PBs"],"range":[246,430],"paddingInner":0,"paddingOuter":0}}}},
{"data":{"name":"cbox"},"mark":{"type":"tick","color":"#666","thickness":1.5,"size":13,"opacity":1},
"encoding":{"x":{"field":"upper","type":"quantitative","scale":{"domain":[0.133,0.858],"range":[219,501.7],"nice":false,"zero":false}},
"y":{"field":"group","type":"nominal","sort":null,"scale":{"domain":["Enriched in unstressed PBs","Depleted from  unstressed PBs","Enriched in stressed PBs","Depleted from in stressed PBs"],"range":[246,430],"paddingInner":0,"paddingOuter":0}}}},
{"data":{"name":"cbox"},"mark":{"type":"bar","height":{"band":0.8},"stroke":"#555","strokeWidth":1.5,"opacity":1},
"encoding":{"x":{"field":"q1","type":"quantitative","scale":{"domain":[0.133,0.858],"range":[219,501.7],"nice":false,"zero":false}},"x2":{"field":"q3"},
"y":{"field":"group","type":"nominal","sort":null,"scale":{"domain":["Enriched in unstressed PBs","Depleted from  unstressed PBs","Enriched in stressed PBs","Depleted from in stressed PBs"],"range":[246,430],"paddingInner":0,"paddingOuter":0}},
"color":{"field":"group","type":"nominal","scale":{"domain":["Enriched in unstressed PBs","Depleted from  unstressed PBs","Enriched in stressed PBs","Depleted from in stressed PBs"],"range":["#abc5db","#3f6fa1","#b9d590","#5a8d3e"]},"legend":null}}},
{"data":{"name":"cbox"},"mark":{"type":"tick","color":"#444","thickness":1.5,"size":36.8,"opacity":1},
"encoding":{"x":{"field":"median","type":"quantitative","scale":{"domain":[0.133,0.858],"range":[219,501.7],"nice":false,"zero":false}},
"y":{"field":"group","type":"nominal","sort":null,"scale":{"domain":["Enriched in unstressed PBs","Depleted from  unstressed PBs","Enriched in stressed PBs","Depleted from in stressed PBs"],"range":[246,430],"paddingInner":0,"paddingOuter":0}}}},
{"data":{"name":"cout"},"mark":{"type":"point","shape":"diamond","filled":true,"size":24,"color":"#3a3a3a","opacity":1},
"encoding":{"x":{"field":"value","type":"quantitative","scale":{"domain":[0.133,0.858],"range":[219,501.7],"nice":false,"zero":false}},
"y":{"field":"group","type":"nominal","sort":null,"scale":{"domain":["Enriched in unstressed PBs","Depleted from  unstressed PBs","Enriched in stressed PBs","Depleted from in stressed PBs"],"range":[246,430],"paddingInner":0,"paddingOuter":0}}}}
]},
{"layer":[
{"data":{"values":[{}]},"mark":{"type":"rect","fill":"#fff","fillOpacity":0,"stroke":"#8a8a8a","strokeWidth":1.3},
"encoding":{"x":{"datum":0.133,"type":"quantitative","scale":{"domain":[0.133,0.858],"range":[219,501.7],"nice":false,"zero":false},"axis":null},"x2":{"datum":0.858},
"y":{"datum":0,"type":"quantitative","scale":{"domain":[0,1],"range":[246,430],"nice":false,"zero":false},"axis":null},"y2":{"datum":1}}},
{"data":{"values":[{}]},"mark":{"type":"text","text":"C","font":"Liberation Sans","fontWeight":"bold","fontSize":13,"color":"#000"},
"encoding":{"x":{"datum":-0.405,"type":"quantitative","scale":{"domain":[0.133,0.858],"range":[219,501.7],"nice":false,"zero":false},"axis":null},
"y":{"datum":-0.123,"type":"quantitative","scale":{"domain":[0,1],"range":[246,430],"nice":false,"zero":false},"axis":null}}}
]},
{"layer":[
{"data":{"values":[{"v":-10},{"v":-9},{"v":-8},{"v":-7},{"v":-6},{"v":-5},{"v":-4},{"v":-3},{"v":-2},{"v":-1},{"v":0},{"v":1},{"v":2},{"v":3}]},
"mark":{"type":"rule","color":"#ececec","strokeWidth":1},
"encoding":{"x":{"field":"v","type":"quantitative","scale":{"domain":[-10.14,3.24],"range":[44.3,333.3],"nice":false,"zero":false},
"axis":{"orient":"bottom","offset":-285.3,"values":[-10,-9,-8,-7,-6,-5,-4,-3,-2,-1,0,1,2,3],"format":"d","title":["unstressed P-body enrichment","(Hubstenberger et al. 2017)"],"domainColor":"#444","tickColor":"#444","tickSize":3,"labelPadding":2,"labelFont":"Liberation Sans","labelFontWeight":"bold","labelFontSize":10.5,"labelColor":"#111","titleFont":"Lato","titleFontSize":13.5,"titleFontWeight":"normal","titleColor":"#222","titlePadding":11,"titleLineHeight":16.5}},
"y":{"datum":0.7,"type":"quantitative","scale":{"domain":[0.7,36.3],"range":[661.7,505],"nice":false,"zero":false},
"axis":{"orient":"left","offset":-44.3,"values":[5,10,15,20,25,30,35],"labelExpr":"datum.value + 'K'","title":"Transcript length (bases)","domainColor":"#444","tickColor":"#444","tickSize":2,"labelPadding":1,"labelFont":"Lato","labelFontSize":11.5,"labelColor":"#444","titleFont":"Lato","titleFontSize":15,"titleFontWeight":"bold","titleColor":"#111","titlePadding":4}},"y2":{"datum":36.3}}},
{"data":{"values":[{"v":5},{"v":10},{"v":15},{"v":20},{"v":25},{"v":30},{"v":35}]},
"mark":{"type":"rule","color":"#ececec","strokeWidth":1},
"encoding":{"y":{"field":"v","type":"quantitative","scale":{"domain":[0.7,36.3],"range":[661.7,505],"nice":false,"zero":false}},
"x":{"datum":-10.14,"type":"quantitative","scale":{"domain":[-10.14,3.24],"range":[44.3,333.3],"nice":false,"zero":false}},"x2":{"datum":3.24}}},
{"data":{"values":[{"x":-9.2,"y":0.7},{"x":3.24,"y":5.18}]},
"mark":{"type":"line","color":"#b3b3b3","strokeWidth":3.5},
"encoding":{"x":{"field":"x","type":"quantitative","scale":{"domain":[-10.14,3.24],"range":[44.3,333.3],"nice":false,"zero":false}},
"y":{"field":"y","type":"quantitative","scale":{"domain":[0.7,36.3],"range":[661.7,505],"nice":false,"zero":false}}}},
{"data":{"values":"x,y\n-5.9,1.6\n-5.8,2.1\n-5.7,1.2\n-5.6,1.8\n-5.5,1.4\n-5.45,2.5\n-5.4,1.1\n-5.35,1.9\n-5.3,1.5\n-5.25,2.2\n-5.2,1.3\n-5.15,1.7\n-5.1,2.8\n-5.05,1.0\n-5.0,1.9\n-4.95,1.4\n-4.9,2.3\n-4.87,1.2\n-4.84,1.8\n-4.8,3.1\n-4.77,1.5\n-4.73,2.0\n-4.7,1.1\n-4.66,2.6\n-4.63,1.7\n-4.6,1.3\n-4.56,2.2\n-4.53,1.9\n-4.5,3.4\n-4.46,1.4\n-4.43,2.4\n-4.4,1.0\n-4.36,1.8\n-4.33,2.9\n-4.3,1.5\n-4.26,2.1\n-4.23,1.2\n-4.2,3.8\n-4.16,1.7\n-4.13,2.5\n-4.1,1.9\n-4.06,1.3\n-4.03,2.8\n-4.0,2.2\n-3.96,1.6\n-3.93,3.3\n-3.9,1.1\n-3.86,2.0\n-3.83,2.6\n-3.8,1.4\n-3.76,4.3\n-3.73,1.9\n-3.7,2.3\n-3.66,1.2\n-3.63,3.0\n-3.6,1.7\n-3.56,2.1\n-3.53,5.2\n-3.5,1.5\n-3.46,2.7\n-3.43,1.9\n-3.4,3.6\n-3.36,1.3\n-3.33,2.4\n-3.3,1.8\n-3.26,3.1\n-3.23,2.2\n-3.2,1.4\n-3.16,4.6\n-3.13,2.6\n-3.1,1.7\n-3.06,3.4\n-3.03,2.0\n-3.0,1.2\n-2.96,2.9\n-2.93,6.1\n-2.9,2.3\n-2.86,1.6\n-2.83,3.8\n-2.8,2.5\n-2.76,1.4\n-2.73,3.2\n-2.7,2.1\n-2.66,5.0\n-2.63,1.8\n-2.6,2.7\n-2.56,3.6\n-2.53,1.5\n-2.5,2.4\n-2.46,4.2\n-2.43,1.9\n-2.4,3.0\n-2.36,2.2\n-2.33,7.3\n-2.3,1.6\n-2.26,3.4\n-2.23,2.6\n-2.2,1.3\n-2.16,4.8\n-2.13,2.9\n-2.1,2.0\n-2.06,3.7\n-2.03,1.7\n-2.0,5.6\n-1.96,2.4\n-1.93,3.2\n-1.9,1.5\n-1.86,4.4\n-1.83,2.7\n-1.8,2.1\n-1.76,6.4\n-1.73,3.5\n-1.7,1.8\n-1.66,2.8\n-1.63,4.1\n-1.6,2.2\n-1.56,1.4\n-1.53,3.3\n-1.5,5.2\n-1.46,2.5\n-1.43,3.9\n-1.4,1.9\n-1.36,2.9\n-1.33,7.8\n-1.3,3.6\n-1.26,2.3\n-1.23,4.6\n-1.2,1.6\n-1.16,3.1\n-1.13,2.6\n-1.1,5.7\n-1.06,2.0\n-1.03,3.8\n-1.0,2.9\n-0.96,4.3\n-0.93,1.7\n-0.9,3.4\n-0.86,6.6\n-0.83,2.4\n-0.8,4.0\n-0.76,3.0\n-0.73,1.9\n-0.7,5.1\n-0.66,2.7\n-0.63,3.6\n-0.6,8.4\n-0.56,2.2\n-0.53,4.7\n-0.5,3.2\n-0.46,1.8\n-0.43,5.9\n-0.4,2.8\n-0.36,3.9\n-0.33,2.4\n-0.3,4.4\n-0.26,6.9\n-0.23,3.1\n-0.2,2.0\n-0.16,5.3\n-0.13,3.5\n-0.1,2.6\n-0.06,4.1\n-0.03,7.4\n0.0,3.0\n0.03,2.2\n0.06,4.8\n0.1,3.6\n0.13,5.6\n0.16,2.5\n0.2,4.2\n0.23,9.1\n0.26,3.3\n0.3,2.0\n0.33,5.0\n0.36,3.9\n0.4,6.3\n0.43,2.8\n0.46,4.5\n0.5,3.4\n0.53,7.7\n0.56,2.4\n0.6,5.3\n0.63,4.0\n0.66,3.0\n0.7,6.0\n0.73,2.2\n0.76,4.7\n0.8,10.2\n0.83,3.6\n0.86,5.5\n0.9,2.9\n0.93,4.3\n0.96,6.7\n1.0,3.3\n1.03,8.5\n1.06,2.6\n1.1,5.0\n1.13,4.0\n1.16,3.1\n1.2,6.2\n1.23,2.3\n1.26,4.6\n1.3,7.1\n1.33,3.7\n1.36,5.6\n1.4,2.8\n1.43,4.4\n1.46,9.6\n1.5,3.4\n1.53,5.9\n1.56,2.5\n1.6,4.9\n1.63,6.8\n1.66,3.9\n1.7,3.0\n1.73,5.3\n1.76,7.9\n1.8,2.4\n1.83,4.6\n1.86,3.6\n1.9,6.3\n1.93,5.1\n1.96,2.9\n2.0,4.1\n2.03,8.8\n2.06,3.3\n2.1,5.7\n2.13,4.4\n2.16,2.6\n2.2,6.9\n2.23,3.8\n2.26,5.0\n2.3,3.0\n2.33,7.4\n2.36,4.7\n2.4,2.3\n2.43,6.1\n2.46,3.6\n2.5,5.4\n2.53,9.9\n2.56,4.2\n2.6,3.1\n2.63,6.6\n2.66,4.9\n2.7,2.7\n2.73,5.8\n2.76,3.9\n2.8,7.2\n2.83,4.5\n2.86,3.3\n2.9,6.0\n2.93,5.1\n2.96,2.8\n3.0,4.4\n3.03,8.2\n3.06,3.7\n3.1,5.5\n3.13,6.7\n3.16,4.1\n3.2,6.4\n-9.5,4.7\n-7.5,3.0\n-6.1,6.7\n-5.9,6.4\n-6.7,1.4\n-6.3,1.9\n-6.9,1.2\n-5.8,3.2\n-5.4,3.8\n-5.0,9.2\n-4.6,4.8\n-4.3,5.6\n-3.9,7.3\n-3.7,9.5\n-3.3,11.2\n-3.05,16.6\n-2.85,13.5\n-2.55,16.0\n-2.6,10.4\n-2.45,17.2\n-2.2,9.6\n-2.05,14.2\n-1.8,11.3\n-1.5,18.8\n-1.35,14.8\n-1.25,19.5\n-1.1,10.9\n-0.85,19.2\n-0.95,13.0\n-0.55,16.5\n-0.4,12.1\n-0.65,26.8\n-0.25,20.8\n-0.1,15.4\n0.05,11.8\n0.15,26.4\n0.25,18.2\n0.45,13.9\n0.55,22.0\n0.65,16.8\n0.75,10.9\n0.85,14.2\n0.95,24.9\n1.0,23.6\n1.1,21.4\n1.05,27.1\n0.88,33.5\n1.25,34.5\n1.35,18.6\n1.45,12.5\n1.55,16.0\n1.62,22.6\n1.7,27.6\n1.8,13.3\n1.9,18.0\n2.0,11.6\n2.05,21.6\n2.15,15.2\n2.25,12.8\n2.35,17.5\n2.45,14.0\n2.55,11.0\n2.6,26.6\n2.7,18.9\n2.75,13.6\n2.85,16.3\n2.95,12.2\n3.05,19.5\n3.15,17.0\n3.2,27.0\n3.0,10.8\n2.3,10.3\n1.65,11.2\n0.35,10.4\n-0.2,9.7\n-1.6,8.6\n-2.8,7.1\n-3.5,6.3\n-4.5,5.3\n-4.9,3.9\n-5.2,3.3","format":{"type":"csv","parse":{"x":"number","y":"number"}}},
"mark":{"type":"point","shape":"square","filled":true,"size":5,"color":"#000","opacity":1},
"encoding":{"x":{"field":"x","type":"quantitative","scale":{"domain":[-10.14,3.24],"range":[44.3,333.3],"nice":false,"zero":false}},
"y":{"field":"y","type":"quantitative","scale":{"domain":[0.7,36.3],"range":[661.7,505],"nice":false,"zero":false}}}},
{"data":{"values":"x,y\n-4.0,1.6\n-3.8,2.0\n-3.6,2.2\n-3.4,1.7\n-3.2,2.4\n-3.0,2.1\n-2.8,1.9\n-2.6,2.3\n-2.4,2.6\n-2.2,2.0\n-2.0,2.5\n-1.8,2.9\n-1.6,2.4\n-1.4,2.6\n-1.2,3.0\n-1.0,2.5\n-0.8,3.2\n-0.6,2.9\n-0.4,3.4\n-0.2,3.0\n0.0,3.6\n0.2,3.2\n0.4,3.8\n0.6,3.5\n0.8,4.1\n1.0,3.9\n1.2,4.4\n1.4,4.0\n1.6,4.5\n1.8,4.2\n2.0,4.8\n2.2,4.4\n2.4,5.0\n2.6,4.6\n2.8,5.2\n3.0,4.9\n-3.9,2.6\n-3.7,1.6\n-3.5,2.9\n-3.3,2.1\n-3.1,1.9\n-2.9,2.8\n-2.7,2.5\n-2.5,2.9\n-2.3,2.2\n-2.1,3.1\n-1.9,2.6\n-1.7,3.3\n-1.5,2.8\n-1.3,3.4\n-1.1,2.7\n-0.9,3.7\n-0.7,3.4\n-0.5,4.0\n-0.3,3.6\n-0.1,4.2\n0.1,3.9\n0.3,4.5\n0.5,4.1\n0.7,4.8\n0.9,4.4\n1.1,5.1\n1.3,4.7\n1.5,5.4\n1.7,5.0\n1.9,5.7\n2.1,5.3\n2.3,5.9\n2.5,5.6\n2.7,6.1\n2.9,5.7\n3.1,6.0\n-0.9,2.2\n-0.7,2.5\n-0.5,2.6\n-0.3,2.7\n-0.1,2.9\n0.1,2.7\n0.3,3.0\n0.5,2.9\n0.7,3.1\n0.9,3.3\n1.1,3.0\n1.3,3.4\n1.5,3.2\n1.7,3.5\n1.9,3.3\n2.1,3.6\n2.3,3.4\n2.5,3.8\n2.7,3.5\n2.9,3.9\n3.1,3.4\n0.2,5.0\n0.5,5.8\n0.8,5.2\n1.1,6.0\n1.4,5.5\n1.7,6.2\n2.0,5.9\n2.3,6.5\n2.6,6.0\n2.9,6.8\n3.15,7.1\n0.4,6.8\n1.0,7.0\n1.6,7.5\n2.2,7.8\n2.8,8.0\n1.2,8.2\n1.9,8.5\n2.6,8.9\n-0.5,5.3\n-1.2,4.8\n-1.8,4.0\n-2.4,3.7\n-3.0,3.3\n-4.05,1.3\n-3.85,2.1\n-3.75,1.7\n-3.65,2.5\n-3.55,1.4\n-3.45,2.0\n-3.35,2.6\n-3.25,1.5\n-3.15,2.0\n-3.05,2.8\n-2.95,1.7\n-2.85,2.2\n-2.75,3.0\n-2.65,1.6\n-2.55,2.1\n-2.45,3.2\n-2.35,1.8\n-2.25,2.6\n-2.15,3.4\n-2.05,1.7\n-1.95,2.3\n-1.85,3.0\n-1.75,3.7\n-1.65,2.0\n-1.55,2.7\n-1.45,3.4\n-1.35,2.2\n-1.25,2.8\n-1.15,3.7\n-1.05,2.1\n-0.95,3.0\n-0.85,4.2\n-0.75,2.4\n-0.65,3.1\n-0.55,3.8\n-0.45,2.3\n-0.35,3.0\n-0.25,4.6\n-0.15,2.5\n-0.05,3.3\n0.05,4.2\n0.15,2.4\n0.25,3.5\n0.35,4.8\n0.45,2.9\n0.55,3.7\n0.65,4.4\n0.75,5.5\n0.85,3.0\n0.95,3.8\n1.05,4.7\n1.15,5.8\n1.25,3.2\n1.35,4.1\n1.45,5.0\n1.55,6.1\n1.65,3.4\n1.75,4.3\n1.85,5.3\n1.95,6.4\n2.05,3.6\n2.15,4.6\n2.25,5.5\n2.35,6.7\n2.45,3.8\n2.55,4.8\n2.65,5.9\n2.75,7.0\n2.85,4.0\n2.95,5.1\n3.05,6.2\n3.12,4.3\n3.18,5.4\n0.15,4.0\n0.45,4.6\n0.75,4.1\n1.05,5.3\n1.35,4.5\n1.65,5.6\n1.95,4.9\n2.25,6.1\n2.55,5.3\n2.85,6.5\n1.25,6.5\n1.85,7.0\n2.45,7.3\n3.05,7.6\n-0.25,3.8\n-0.75,3.5\n-1.35,3.3\n-1.95,2.4","format":{"type":"csv","parse":{"x":"number","y":"number"}}},
"mark":{"type":"point","shape":"square","filled":true,"size":10,"color":"#000","opacity":1},
"encoding":{"x":{"field":"x","type":"quantitative","scale":{"domain":[-10.14,3.24],"range":[44.3,333.3],"nice":false,"zero":false}},
"y":{"field":"y","type":"quantitative","scale":{"domain":[0.7,36.3],"range":[661.7,505],"nice":false,"zero":false}}}},
{"data":{"values":[{}]},"mark":{"type":"text","text":"r = .37","font":"Lato","fontSize":14,"color":"#111"},
"encoding":{"x":{"datum":-8.23,"type":"quantitative","scale":{"domain":[-10.14,3.24],"range":[44.3,333.3],"nice":false,"zero":false}},
"y":{"datum":32.7,"type":"quantitative","scale":{"domain":[0.7,36.3],"range":[661.7,505],"nice":false,"zero":false}}}},
{"data":{"values":[{}]},"mark":{"type":"text","text":"D","font":"Liberation Sans","fontWeight":"bold","fontSize":13,"color":"#000"},
"encoding":{"x":{"datum":-11.96,"type":"quantitative","scale":{"domain":[-10.14,3.24],"range":[44.3,333.3],"nice":false,"zero":false}},
"y":{"datum":40.47,"type":"quantitative","scale":{"domain":[0.7,36.3],"range":[661.7,505],"nice":false,"zero":false}}}}
]},
{"layer":[
{"data":{"values":[{"v":-4},{"v":-3},{"v":-2},{"v":-1},{"v":0},{"v":1},{"v":2},{"v":3}]},
"mark":{"type":"rule","color":"#ececec","strokeWidth":1},
"encoding":{"x":{"field":"v","type":"quantitative","scale":{"domain":[-4.14,3.71],"range":[399.3,713.3],"nice":false,"zero":false},
"axis":{"orient":"bottom","offset":-283,"values":[-4,-3,-2,-1,0,1,2,3],"format":"d","title":"P-body enrichment (arsenite stress)","domainColor":"#444","tickColor":"#444","tickSize":3,"labelPadding":3,"labelFont":"Liberation Sans","labelFontSize":11.5,"labelColor":"#222","titleFont":"Lato","titleFontSize":13.5,"titleFontWeight":"normal","titleColor":"#222","titlePadding":10}},
"y":{"datum":0,"type":"quantitative","scale":{"domain":[0,36.6],"range":[664,511.7],"nice":false,"zero":false},
"axis":{"orient":"left","offset":-399.3,"values":[5,10,15,20,25,30,35],"labelExpr":"datum.value + 'K'","title":"Transcript length (bases)","domainColor":"#444","tickColor":"#444","tickSize":1,"labelPadding":1,"labelFont":"Lato","labelFontSize":11.5,"labelColor":"#444","titleFont":"Lato","titleFontSize":15,"titleFontWeight":"bold","titleColor":"#111","titlePadding":3}},"y2":{"datum":36.6}}},
{"data":{"values":[{"v":5},{"v":10},{"v":15},{"v":20},{"v":25},{"v":30},{"v":35}]},
"mark":{"type":"rule","color":"#ececec","strokeWidth":1},
"encoding":{"y":{"field":"v","type":"quantitative","scale":{"domain":[0,36.6],"range":[664,511.7],"nice":false,"zero":false}},
"x":{"datum":-4.14,"type":"quantitative","scale":{"domain":[-4.14,3.71],"range":[399.3,713.3],"nice":false,"zero":false}},"x2":{"datum":3.71}}},
{"data":{"values":[{"x":-2.95,"y":0.05},{"x":3.71,"y":10.0}]},
"mark":{"type":"line","color":"#b3b3b3","strokeWidth":3.5},
"encoding":{"x":{"field":"x","type":"quantitative","scale":{"domain":[-4.14,3.71],"range":[399.3,713.3],"nice":false,"zero":false}},
"y":{"field":"y","type":"quantitative","scale":{"domain":[0,36.6],"range":[664,511.7],"nice":false,"zero":false}}}},
{"data":{"values":"x,y\n-3.8,2.0\n-3.4,3.6\n-3.2,0.8\n-3.1,4.7\n-3.0,1.3\n-2.95,0.6\n-2.9,2.4\n-2.85,1.0\n-2.8,0.5\n-2.75,1.7\n-2.7,0.8\n-2.65,3.1\n-2.6,1.2\n-2.55,0.6\n-2.5,2.0\n-2.47,0.9\n-2.44,1.5\n-2.41,4.0\n-2.38,1.1\n-2.35,0.7\n-2.32,2.6\n-2.29,1.4\n-2.26,0.9\n-2.23,1.8\n-2.2,3.3\n-2.17,1.2\n-2.14,0.6\n-2.11,2.1\n-2.08,1.5\n-2.05,0.9\n-2.02,5.6\n-1.99,1.7\n-1.96,1.1\n-1.93,2.5\n-1.9,0.8\n-1.87,1.9\n-1.84,3.6\n-1.81,1.3\n-1.78,2.2\n-1.75,0.9\n-1.72,1.6\n-1.69,4.3\n-1.66,2.0\n-1.63,1.2\n-1.6,2.8\n-1.57,1.5\n-1.54,0.9\n-1.51,2.3\n-1.48,6.4\n-1.45,1.8\n-1.42,3.1\n-1.39,1.3\n-1.36,2.6\n-1.33,1.9\n-1.3,4.8\n-1.27,1.1\n-1.24,2.2\n-1.21,3.5\n-1.18,1.6\n-1.15,2.9\n-1.12,1.2\n-1.09,2.4\n-1.06,5.5\n-1.03,1.9\n-1.0,3.2\n-0.97,2.6\n-0.94,1.4\n-0.91,4.1\n-0.88,2.1\n-0.85,3.0\n-0.82,1.6\n-0.79,7.3\n-0.76,2.7\n-0.73,3.6\n-0.7,2.0\n-0.67,4.6\n-0.64,1.3\n-0.61,3.1\n-0.58,2.4\n-0.55,5.8\n-0.52,3.4\n-0.49,1.8\n-0.46,2.8\n-0.43,4.2\n-0.4,2.2\n-0.37,3.8\n-0.34,1.5\n-0.31,6.6\n-0.28,2.9\n-0.25,3.5\n-0.22,2.1\n-0.19,4.9\n-0.16,3.1\n-0.13,1.9\n-0.1,8.0\n-0.07,3.7\n-0.04,2.6\n-0.01,4.4\n0.02,3.0\n0.05,2.2\n0.08,5.5\n0.11,3.9\n0.14,2.8\n0.17,6.8\n0.2,3.4\n0.23,4.7\n0.26,2.4\n0.29,3.8\n0.32,9.1\n0.35,3.1\n0.38,5.0\n0.41,4.0\n0.44,2.7\n0.47,6.1\n0.5,3.6\n0.53,4.8\n0.56,2.9\n0.59,7.4\n0.62,4.2\n0.65,3.3\n0.68,5.6\n0.71,2.6\n0.74,4.5\n0.77,8.6\n0.8,3.9\n0.83,5.2\n0.86,3.0\n0.89,6.4\n0.92,4.6\n0.95,3.5\n0.98,10.4\n1.01,5.0\n1.04,4.0\n1.07,6.9\n1.1,3.2\n1.13,5.6\n1.16,4.4\n1.19,7.8\n1.22,3.6\n1.25,5.2\n1.28,9.4\n1.31,4.1\n1.34,6.1\n1.37,3.4\n1.4,5.5\n1.43,7.1\n1.46,4.5\n1.49,11.6\n1.52,3.9\n1.55,6.3\n1.58,5.0\n1.61,8.3\n1.64,4.2\n1.67,6.8\n1.7,3.6\n1.73,5.7\n1.76,9.8\n1.79,4.8\n1.82,7.0\n1.85,5.3\n1.88,3.9\n1.91,12.4\n1.94,6.0\n1.97,4.6\n2.0,8.1\n2.03,5.5\n2.06,7.3\n2.09,4.1\n2.12,10.6\n2.15,6.3\n2.18,5.0\n2.21,8.7\n2.24,6.6\n2.27,4.5\n2.3,11.8\n2.33,7.4\n2.36,5.7\n2.39,9.2\n2.42,6.2\n2.45,13.6\n2.48,7.9\n2.51,5.4\n2.54,10.3\n2.57,8.4\n2.6,6.4\n2.63,12.7\n2.66,7.2\n2.7,9.0\n2.72,5.9\n2.74,8.0\n2.78,10.8\n2.8,6.8\n2.85,9.6\n2.9,12.1\n2.95,7.9\n3.0,10.6\n3.05,14.5\n3.1,9.0\n3.2,13.6\n3.25,10.8\n3.3,8.5\n-3.78,1.9\n-3.33,3.7\n-3.07,4.9\n-2.96,2.6\n-2.7,5.6\n-2.5,4.4\n-2.3,6.1\n-2.1,7.0\n-1.9,10.4\n-1.8,8.2\n-1.67,11.0\n-1.63,15.6\n-1.5,13.2\n-1.4,9.0\n-1.25,20.4\n-1.2,11.8\n-1.08,16.0\n-0.93,16.9\n-0.85,10.2\n-0.75,13.7\n-0.6,11.0\n-0.54,17.7\n-0.42,26.4\n-0.31,27.3\n-0.3,22.4\n-0.21,14.2\n-0.1,34.8\n-0.1,18.5\n0.0,18.8\n0.1,12.5\n0.2,15.0\n0.3,20.2\n0.45,19.5\n0.5,13.8\n0.6,10.8\n0.7,15.8\n0.73,21.5\n0.85,12.0\n0.95,14.6\n1.0,21.0\n1.1,17.2\n1.16,26.8\n1.2,12.8\n1.29,34.0\n1.3,15.4\n1.38,20.3\n1.5,13.0\n1.52,27.7\n1.6,16.2\n1.65,23.4\n1.75,14.1\n1.85,11.0\n1.9,27.4\n1.97,22.4\n2.0,21.9\n2.05,15.8\n2.15,13.2\n2.2,26.6\n2.3,16.0\n2.4,11.5\n2.5,15.0\n2.56,20.9\n2.65,14.2\n2.75,17.8\n2.85,12.9\n2.9,16.6\n3.0,11.8\n3.1,19.3\n3.2,25.0\n3.15,15.5\n3.3,12.0\n2.35,18.4\n1.45,17.9","format":{"type":"csv","parse":{"x":"number","y":"number"}}},
"mark":{"type":"point","shape":"square","filled":true,"size":5,"color":"#000","opacity":1},
"encoding":{"x":{"field":"x","type":"quantitative","scale":{"domain":[-4.14,3.71],"range":[399.3,713.3],"nice":false,"zero":false}},
"y":{"field":"y","type":"quantitative","scale":{"domain":[0,36.6],"range":[664,511.7],"nice":false,"zero":false}}}},
{"data":{"values":"x,y\n-2.4,1.4\n-2.2,1.0\n-2.0,1.4\n-1.8,1.7\n-1.6,1.5\n-1.4,2.0\n-1.2,1.7\n-1.0,2.2\n-0.8,2.5\n-0.6,2.0\n-0.4,2.8\n-0.2,2.6\n0.0,3.2\n0.2,2.9\n0.4,3.5\n0.6,3.4\n0.8,4.0\n1.0,3.7\n1.2,4.5\n1.4,4.3\n1.6,5.2\n1.8,4.9\n2.0,5.6\n2.2,6.1\n-2.3,2.0\n-2.1,1.6\n-1.9,2.3\n-1.7,1.3\n-1.5,2.6\n-1.3,2.4\n-1.1,1.4\n-0.9,3.0\n-0.7,2.9\n-0.5,3.3\n-0.3,2.3\n-0.1,3.6\n0.1,4.0\n0.3,3.2\n0.5,4.3\n0.7,3.7\n0.9,4.8\n1.1,4.2\n1.3,5.6\n1.5,4.8\n1.7,6.2\n1.9,5.6\n2.1,6.7\n2.3,6.3\n-1.85,1.1\n-1.55,1.9\n-1.25,2.8\n-0.95,1.9\n-0.65,3.6\n-0.35,3.1\n-0.05,2.4\n0.25,3.6\n0.55,2.6\n0.85,4.4\n1.15,3.5\n1.45,5.9\n1.75,4.4\n2.05,6.4\n0.0,4.8\n0.4,5.8\n0.8,6.0\n1.2,6.8\n1.6,7.5\n-0.5,4.5\n-1.0,4.0\n-1.5,3.2\n-2.0,2.8\n0.6,7.0\n1.0,8.0\n1.4,8.8\n1.8,8.6\n2.2,9.8\n-2.5,1.0\n-2.45,1.8\n-2.35,0.6\n-2.25,1.4\n-2.15,2.2\n-2.05,0.9\n-1.95,1.6\n-1.92,2.6\n-1.88,1.2\n-1.82,2.0\n-1.76,0.8\n-1.72,1.5\n-1.66,2.4\n-1.62,1.1\n-1.56,2.8\n-1.52,1.7\n-1.46,1.0\n-1.42,2.4\n-1.36,1.5\n-1.32,3.0\n-1.26,2.0\n-1.22,1.2\n-1.16,2.6\n-1.12,1.8\n-1.06,3.3\n-1.02,1.4\n-0.96,2.4\n-0.92,1.9\n-0.86,3.4\n-0.82,2.2\n-0.76,1.6\n-0.72,3.0\n-0.66,2.4\n-0.62,3.8\n-0.56,1.9\n-0.52,2.8\n-0.46,3.5\n-0.42,2.0\n-0.36,4.0\n-0.32,2.6\n-0.26,3.2\n-0.22,1.8\n-0.16,3.8\n-0.12,2.9\n-0.06,4.5\n-0.02,2.3\n0.06,3.4\n0.1,4.1\n0.16,2.7\n0.2,4.9\n0.26,3.1\n0.3,3.9\n0.36,2.5\n0.4,4.5\n0.46,3.3\n0.5,5.2\n0.56,2.8\n0.6,4.0\n0.66,3.5\n0.7,5.0\n0.76,3.0\n0.8,4.6\n0.86,5.6\n0.9,3.4\n0.96,4.2\n1.0,5.4\n1.06,3.1\n1.1,4.9\n1.16,6.0\n1.2,3.9\n1.26,4.5\n1.3,5.2\n1.36,3.6\n1.4,6.4\n1.46,4.3\n1.5,5.0\n1.56,6.8\n1.6,4.0\n1.66,5.4\n1.7,4.7\n1.76,6.1\n1.8,7.2\n1.86,5.0\n1.9,4.4\n1.96,6.6\n2.0,5.8\n2.06,7.6\n2.1,4.9\n2.16,6.2\n2.2,7.0\n2.26,5.3\n2.3,8.0\n-2.25,1.9\n-1.95,1.1\n-1.65,1.8\n-1.35,2.2\n-1.05,2.0\n-0.75,2.6\n-0.45,2.5\n-0.15,3.0\n0.15,3.5\n0.45,4.0\n0.75,4.2\n1.05,4.3\n1.35,4.9\n1.65,4.6\n1.95,5.4\n2.25,6.2\n-1.8,1.4\n-1.5,2.2\n-1.2,2.8\n-0.9,2.9\n-0.6,3.2\n-0.3,3.7\n0.0,3.8\n0.3,4.6\n0.6,4.8\n0.9,5.0\n1.2,5.6\n1.5,5.8\n1.8,6.0\n2.1,6.9","format":{"type":"csv","parse":{"x":"number","y":"number"}}},
"mark":{"type":"point","shape":"square","filled":true,"size":10,"color":"#000","opacity":1},
"encoding":{"x":{"field":"x","type":"quantitative","scale":{"domain":[-4.14,3.71],"range":[399.3,713.3],"nice":false,"zero":false}},
"y":{"field":"y","type":"quantitative","scale":{"domain":[0,36.6],"range":[664,511.7],"nice":false,"zero":false}}}},
{"data":{"values":[{}]},"mark":{"type":"text","text":"r = .56","font":"Lato","fontSize":14,"color":"#111"},
"encoding":{"x":{"datum":-3.25,"type":"quantitative","scale":{"domain":[-4.14,3.71],"range":[399.3,713.3],"nice":false,"zero":false}},
"y":{"datum":33.9,"type":"quantitative","scale":{"domain":[0,36.6],"range":[664,511.7],"nice":false,"zero":false}}}},
{"data":{"values":[{}]},"mark":{"type":"text","text":"E","font":"Liberation Sans","fontWeight":"bold","fontSize":13,"color":"#000"},
"encoding":{"x":{"datum":-5.07,"type":"quantitative","scale":{"domain":[-4.14,3.71],"range":[399.3,713.3],"nice":false,"zero":false}},
"y":{"datum":42.6,"type":"quantitative","scale":{"domain":[0,36.6],"range":[664,511.7],"nice":false,"zero":false}}}}
]},
{"layer":[
{"data":{"name":"fbox"},"mark":{"type":"rule","color":"#666","strokeWidth":1.5},
"encoding":{"x":{"field":"lower","type":"quantitative","scale":{"type":"log","domain":[36,195000],"range":[239.3,501.7],"nice":false},
"axis":{"orient":"bottom","offset":-37,"values":[100,1000,10000,100000],"labelExpr":"'10' + ['⁰','¹','²','³','⁴','⁵'][round(log(datum.value)/LN10)]","title":"transcript length (bases)","domain":false,"tickSize":3,"tickColor":"#999","labelPadding":2,"labelFont":"Noto Sans","labelFontSize":13,"labelColor":"#222","titleFont":"Lato","titleFontSize":14,"titleFontWeight":"normal","titleColor":"#222","titlePadding":3}},
"x2":{"field":"upper"},
"y":{"field":"group","type":"nominal","sort":null,"scale":{"domain":["Enriched in unstressed PBs","Depleted from  unstressed PBs","Enriched in stressed PBs","Depleted from stressed PBs"],"range":[736.7,910],"paddingInner":0,"paddingOuter":0},
"axis":{"orient":"left","offset":-239.3,"title":null,"domain":false,"tickSize":3,"tickColor":"#bbb","bandPosition":0.5,"labelPadding":5.5,"labelFont":"Lato","labelFontSize":12.8,"labelColor":"#222","labelLimit":400}}}},
{"data":{"name":"fbox"},"mark":{"type":"tick","color":"#666","thickness":1.5,"size":16,"opacity":1},
"encoding":{"x":{"field":"lower","type":"quantitative","scale":{"type":"log","domain":[36,195000],"range":[239.3,501.7],"nice":false}},
"y":{"field":"group","type":"nominal","sort":null,"scale":{"domain":["Enriched in unstressed PBs","Depleted from  unstressed PBs","Enriched in stressed PBs","Depleted from stressed PBs"],"range":[736.7,910],"paddingInner":0,"paddingOuter":0}}}},
{"data":{"name":"fbox"},"mark":{"type":"tick","color":"#666","thickness":1.5,"size":16,"opacity":1},
"encoding":{"x":{"field":"upper","type":"quantitative","scale":{"type":"log","domain":[36,195000],"range":[239.3,501.7],"nice":false}},
"y":{"field":"group","type":"nominal","sort":null,"scale":{"domain":["Enriched in unstressed PBs","Depleted from  unstressed PBs","Enriched in stressed PBs","Depleted from stressed PBs"],"range":[736.7,910],"paddingInner":0,"paddingOuter":0}}}},
{"data":{"name":"fbox"},"mark":{"type":"bar","height":{"band":0.78},"stroke":"#555","strokeWidth":1.5,"opacity":1},
"encoding":{"x":{"field":"q1","type":"quantitative","scale":{"type":"log","domain":[36,195000],"range":[239.3,501.7],"nice":false}},"x2":{"field":"q3"},
"y":{"field":"group","type":"nominal","sort":null,"scale":{"domain":["Enriched in unstressed PBs","Depleted from  unstressed PBs","Enriched in stressed PBs","Depleted from stressed PBs"],"range":[736.7,910],"paddingInner":0,"paddingOuter":0}},
"color":{"field":"group","type":"nominal","scale":{"domain":["Enriched in unstressed PBs","Depleted from  unstressed PBs","Enriched in stressed PBs","Depleted from stressed PBs"],"range":["#abc5db","#3f6fa1","#b9d590","#5a8d3e"]},"legend":null}}},
{"data":{"name":"fbox"},"mark":{"type":"tick","color":"#444","thickness":1.5,"size":33.8,"opacity":1},
"encoding":{"x":{"field":"median","type":"quantitative","scale":{"type":"log","domain":[36,195000],"range":[239.3,501.7],"nice":false}},
"y":{"field":"group","type":"nominal","sort":null,"scale":{"domain":["Enriched in unstressed PBs","Depleted from  unstressed PBs","Enriched in stressed PBs","Depleted from stressed PBs"],"range":[736.7,910],"paddingInner":0,"paddingOuter":0}}}},
{"data":{"name":"fout"},"mark":{"type":"point","shape":"diamond","filled":true,"size":24,"color":"#3a3a3a","opacity":1},
"encoding":{"x":{"field":"value","type":"quantitative","scale":{"type":"log","domain":[36,195000],"range":[239.3,501.7],"nice":false}},
"y":{"field":"group","type":"nominal","sort":null,"scale":{"domain":["Enriched in unstressed PBs","Depleted from  unstressed PBs","Enriched in stressed PBs","Depleted from stressed PBs"],"range":[736.7,910],"paddingInner":0,"paddingOuter":0}}}}
]},
{"layer":[
{"data":{"values":[{}]},"mark":{"type":"rect","fill":"#fff","fillOpacity":0,"stroke":"#777","strokeWidth":2},
"encoding":{"x":{"datum":36,"type":"quantitative","scale":{"type":"log","domain":[36,195000],"range":[239.3,501.7],"nice":false},"axis":null},"x2":{"datum":195000},
"y":{"datum":0,"type":"quantitative","scale":{"domain":[0,1],"range":[736.7,910],"nice":false,"zero":false},"axis":null},"y2":{"datum":1}}},
{"data":{"values":[{}]},"mark":{"type":"text","text":"F","font":"Liberation Sans","fontWeight":"bold","fontSize":13,"color":"#000"},
"encoding":{"x":{"datum":0.019,"type":"quantitative","scale":{"type":"log","domain":[36,195000],"range":[239.3,501.7],"nice":false},"axis":null},
"y":{"datum":0.0075,"type":"quantitative","scale":{"domain":[0,1],"range":[736.7,910],"nice":false,"zero":false},"axis":null}}}
]}
]
}
